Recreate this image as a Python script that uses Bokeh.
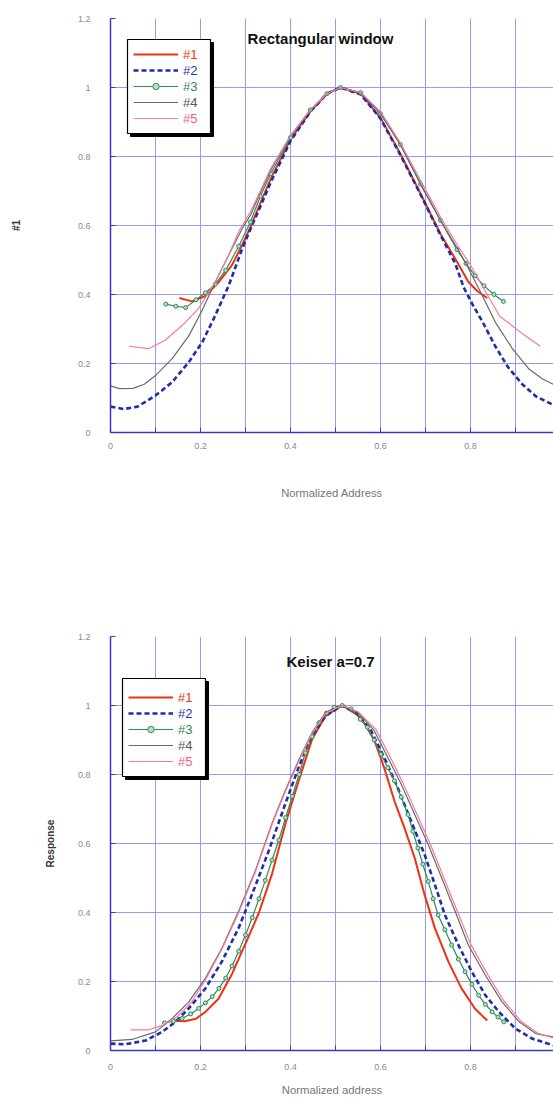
from bokeh.plotting import figure
from bokeh.models import Range1d, FixedTicker, Legend, LegendItem, BoxAnnotation, Label
from bokeh.layouts import column
from bokeh.embed import file_html
from bokeh.resources import INLINE

FONT = "Liberation Sans"

# ---------------- data ----------------
X_TICKS = [0.0, 0.2, 0.4, 0.6, 0.8, 1.0]
X_TICK_LABELS = ["0", "0.2", "0.4", "0.6", "0.8", "1"]
X_MINOR = [0.1, 0.3, 0.5, 0.7, 0.9]
Y_TICKS = [0.0, 0.2, 0.4, 0.6, 0.8, 1.0, 1.2]
Y_TICK_LABELS = ["0", "0.2", "0.4", "0.6", "0.8", "1", "1.2"]
SERIES_NAMES = ["#1", "#2", "#3", "#4", "#5"]

# Rectangular window
rect_x1 = [0.153, 0.181, 0.21, 0.24, 0.27, 0.293, 0.311, 0.333, 0.356, 0.4, 0.444, 0.481, 0.511,
           0.556, 0.6, 0.644, 0.689, 0.733, 0.77, 0.795, 0.815, 0.837]
rect_y1 = [0.39, 0.38, 0.395, 0.435, 0.485, 0.545, 0.595, 0.665, 0.735, 0.85, 0.93, 0.982, 1.0,
           0.982, 0.912, 0.808, 0.692, 0.576, 0.495, 0.437, 0.41, 0.39]
rect_x2 = [0.0, 0.03, 0.06, 0.1, 0.137, 0.174, 0.204, 0.233, 0.263, 0.293, 0.311, 0.333, 0.356, 0.4,
           0.444, 0.481, 0.511, 0.556, 0.6, 0.644, 0.689, 0.733, 0.766, 0.785, 0.805, 0.827, 0.855,
           0.883, 0.915, 0.945, 0.984]
rect_y2 = [0.075, 0.068, 0.075, 0.107, 0.146, 0.204, 0.262, 0.34, 0.427, 0.534, 0.59, 0.655, 0.725, 0.845,
           0.93, 0.982, 1.0, 0.98, 0.91, 0.805, 0.69, 0.573, 0.49, 0.42, 0.37, 0.32, 0.25,
           0.19, 0.14, 0.105, 0.08]
rect_x3 = [0.123, 0.145, 0.167, 0.19, 0.211, 0.233, 0.256, 0.285, 0.311, 0.333, 0.356, 0.4, 0.444,
           0.481, 0.511, 0.556, 0.6, 0.644, 0.689, 0.733, 0.77, 0.79, 0.81, 0.83, 0.852, 0.873]
rect_y3 = [0.372, 0.366, 0.362, 0.385, 0.405, 0.43, 0.47, 0.54, 0.61, 0.685, 0.75, 0.855, 0.935,
           0.982, 1.0, 0.985, 0.924, 0.835, 0.72, 0.615, 0.53, 0.49, 0.455, 0.425, 0.40, 0.38]
rect_x4 = [0.0, 0.02, 0.05, 0.075, 0.1, 0.137, 0.174, 0.204, 0.233, 0.263, 0.293, 0.311, 0.333, 0.356,
           0.4, 0.444, 0.481, 0.511, 0.556, 0.6, 0.644, 0.689, 0.733, 0.77, 0.79, 0.825, 0.855, 0.893,
           0.93, 0.96, 0.984]
rect_y4 = [0.135, 0.127, 0.128, 0.14, 0.165, 0.214, 0.28, 0.355, 0.437, 0.515, 0.592, 0.63, 0.695, 0.76,
           0.86, 0.935, 0.982, 1.0, 0.985, 0.925, 0.835, 0.72, 0.615, 0.535, 0.49, 0.40, 0.32, 0.243,
           0.184, 0.155, 0.14]
rect_x5 = [0.041, 0.085, 0.122, 0.159, 0.196, 0.233, 0.263, 0.285, 0.311, 0.333, 0.356, 0.4, 0.444,
           0.481, 0.511, 0.556, 0.6, 0.644, 0.689, 0.733, 0.77, 0.8, 0.837, 0.865, 0.914, 0.955]
rect_y5 = [0.25, 0.243, 0.268, 0.31, 0.36, 0.437, 0.515, 0.583, 0.64, 0.70, 0.765, 0.86, 0.935,
           0.982, 1.0, 0.985, 0.93, 0.84, 0.73, 0.625, 0.545, 0.485, 0.40, 0.337, 0.288, 0.25]

# Keiser a=0.7
keis_x1 = [0.14, 0.165, 0.19, 0.211, 0.24, 0.27, 0.3, 0.33, 0.359, 0.389, 0.419, 0.448, 0.478, 0.515,
           0.556, 0.586, 0.608, 0.631, 0.653, 0.676, 0.698, 0.721, 0.751, 0.78, 0.81, 0.837]
keis_y1 = [0.086, 0.085, 0.092, 0.112, 0.15, 0.222, 0.31, 0.40, 0.512, 0.659, 0.785, 0.902, 0.97, 1.0,
           0.966, 0.9, 0.82, 0.723, 0.646, 0.558, 0.451, 0.354, 0.257, 0.18, 0.121, 0.087]
keis_x2 = [0.0, 0.033, 0.078, 0.115, 0.144, 0.174, 0.211, 0.248, 0.285, 0.315, 0.352, 0.389, 0.419,
           0.448, 0.478, 0.515, 0.55, 0.579, 0.608, 0.638, 0.668, 0.698, 0.721, 0.743, 0.773, 0.803,
           0.833, 0.863, 0.9, 0.938, 0.984]
keis_y2 = [0.02, 0.018, 0.029, 0.054, 0.083, 0.122, 0.18, 0.259, 0.356, 0.454, 0.58, 0.717, 0.824,
           0.912, 0.97, 1.0, 0.975, 0.927, 0.85, 0.762, 0.665, 0.568, 0.48, 0.393, 0.306, 0.228,
           0.16, 0.112, 0.063, 0.034, 0.015]
keis_x3 = [0.12, 0.14, 0.159, 0.178, 0.196, 0.211, 0.226, 0.241, 0.256, 0.27, 0.285, 0.3, 0.315, 0.33,
           0.344, 0.359, 0.374, 0.389, 0.404, 0.419, 0.433, 0.448, 0.463, 0.48, 0.497, 0.515, 0.535,
           0.555, 0.571, 0.586, 0.601, 0.616, 0.631, 0.646, 0.661, 0.672, 0.683, 0.694, 0.706, 0.717,
           0.728, 0.743, 0.758, 0.773, 0.788, 0.803, 0.818, 0.833, 0.848, 0.861, 0.874]
keis_y3 = [0.08, 0.085, 0.093, 0.106, 0.122, 0.138, 0.156, 0.18, 0.21, 0.245, 0.288, 0.335, 0.385, 0.44,
           0.493, 0.552, 0.61, 0.675, 0.737, 0.80, 0.863, 0.91, 0.95, 0.978, 0.995, 1.0, 0.99,
           0.96, 0.937, 0.9, 0.859, 0.82, 0.782, 0.735, 0.684, 0.635, 0.587, 0.54, 0.49, 0.44,
           0.393, 0.35, 0.306, 0.265, 0.228, 0.192, 0.16, 0.134, 0.112, 0.097, 0.083]
keis_x4 = [0.0, 0.048, 0.1, 0.137, 0.174, 0.211, 0.248, 0.285, 0.322, 0.359, 0.389, 0.419, 0.448, 0.478,
           0.515, 0.55, 0.586, 0.616, 0.646, 0.676, 0.706, 0.736, 0.766, 0.795, 0.833, 0.87, 0.908,
           0.945, 0.984]
keis_y4 = [0.028, 0.032, 0.054, 0.093, 0.141, 0.21, 0.298, 0.405, 0.522, 0.659, 0.756, 0.844, 0.922, 0.98,
           1.0, 0.98, 0.927, 0.85, 0.772, 0.684, 0.597, 0.5, 0.403, 0.306, 0.218, 0.141, 0.083,
           0.049, 0.039]
keis_x5 = [0.045, 0.085, 0.12, 0.15, 0.18, 0.211, 0.248, 0.285, 0.322, 0.359, 0.389, 0.419, 0.448, 0.478,
           0.515, 0.55, 0.59, 0.62, 0.65, 0.68, 0.71, 0.74, 0.77, 0.8, 0.838, 0.875, 0.912, 0.95, 0.984]
keis_y5 = [0.06, 0.06, 0.075, 0.1, 0.14, 0.205, 0.295, 0.40, 0.518, 0.655, 0.752, 0.84, 0.92, 0.978,
           1.0, 0.982, 0.93, 0.855, 0.775, 0.688, 0.6, 0.503, 0.406, 0.309, 0.22, 0.142, 0.085, 0.05, 0.036]

# ---------------- styles ----------------
GRID = "#9a9aec"
AXIS = "#3a3ab8"
LINE_COLORS = ["#f03010", "#1e2ea8", "#2e8b57", "#6a6a6a", "#f57a9c"]
LABEL_COLORS = ["#f03010", "#2233b0", "#2e8b57", "#555555", "#f0608a"]


def make_fig(height, top, bottom, title, title_xy, xlabel, ylabel, ylabel_standoff,
             x_std, xlab_std, series, legend_box):
    p = figure(width=553, height=height, x_range=Range1d(0, 0.9844), y_range=Range1d(0, 1.2),
               output_backend="svg", toolbar_location=None,
               min_border_left=110, min_border_right=0, min_border_top=top, min_border_bottom=bottom)
    p.outline_line_color = None
    p.background_fill_color = "white"

    # axes
    p.xaxis.ticker = FixedTicker(ticks=X_TICKS, minor_ticks=X_MINOR)
    p.xaxis.major_label_overrides = dict(zip(X_TICKS, X_TICK_LABELS))
    p.yaxis.ticker = FixedTicker(ticks=Y_TICKS)
    p.yaxis.major_label_overrides = dict(zip(Y_TICKS, Y_TICK_LABELS))
    for ax in (p.xaxis[0], p.yaxis[0]):
        ax.axis_line_color = AXIS
        ax.axis_line_width = 1.5
        ax.major_tick_line_color = AXIS
        ax.minor_tick_line_color = AXIS
        ax.major_tick_in = 5
        ax.major_tick_out = 0
        ax.minor_tick_in = 5
        ax.minor_tick_out = 0
        ax.major_label_text_font = FONT
        ax.major_label_text_font_size = "9px"
        ax.major_label_text_color = "#8a8a8a"
        ax.axis_label_text_font = FONT
    p.yaxis.minor_tick_line_color = None
    p.xaxis.major_label_standoff = x_std
    p.yaxis.major_label_standoff = 20
    p.xaxis.axis_label = xlabel
    p.xaxis.axis_label_standoff = xlab_std
    p.xaxis.axis_label_text_font_size = "11.3px"
    p.xaxis.axis_label_text_font_style = "normal"
    p.xaxis.axis_label_text_color = "#777777"
    p.yaxis.axis_label = ylabel
    p.yaxis.axis_label_standoff = ylabel_standoff
    p.yaxis.axis_label_text_font_size = "10px"
    p.yaxis.axis_label_text_font_style = "bold"
    p.yaxis.axis_label_text_color = "#333333"

    # grid
    p.xgrid.grid_line_color = GRID
    p.xgrid.minor_grid_line_color = GRID
    p.ygrid.grid_line_color = GRID
    p.xgrid.grid_line_width = 1
    p.ygrid.grid_line_width = 1

    (x1, y1), (x2, y2), (x3, y3), (x4, y4), (x5, y5) = series
    r1 = p.line(x1, y1, line_color=LINE_COLORS[0], line_width=2)
    r2 = p.line(x2, y2, line_color=LINE_COLORS[1], line_width=2.6, line_dash="5 3")
    r3 = p.line(x3, y3, line_color=LINE_COLORS[2], line_width=1.2)
    r3m = p.scatter(x3, y3, marker="circle", size=4, line_color=LINE_COLORS[2],
                    fill_color="#b5e0c5", line_width=1)
    r4 = p.line(x4, y4, line_color=LINE_COLORS[3], line_width=1.2)
    r5 = p.line(x5, y5, line_color=LINE_COLORS[4], line_width=1.2)

    # title
    p.add_layout(Label(x=title_xy[0], y=title_xy[1], text=title, text_align="center",
                       text_baseline="middle", text_font=FONT, text_font_size="15px",
                       text_font_style="bold", text_color="#111111"))

    # legend box with shadow
    (bl, br, bt, bb), (lx, ly) = legend_box
    sx, sy = 3 / 450, 3 / 345
    p.add_layout(BoxAnnotation(left=bl + sx, right=br + sx, top=bt - sy, bottom=bb - sy,
                               fill_color="black", fill_alpha=1, line_color="black", line_alpha=1))
    p.add_layout(BoxAnnotation(left=bl, right=br, top=bt, bottom=bb, fill_color="white",
                               fill_alpha=1, line_color="black", line_width=1.2, line_alpha=1))
    rends = [[r1], [r2], [r3, r3m], [r4], [r5]]
    n = len(SERIES_NAMES)
    for i, name in enumerate(SERIES_NAMES):
        lg = Legend(items=[LegendItem(label=name, renderers=rends[i])],
                    location=(lx, ly + (n - 1 - i) * 16),
                    padding=0, margin=0, spacing=0, label_height=16, glyph_height=16,
                    glyph_width=45, label_standoff=5, background_fill_alpha=0,
                    border_line_alpha=0, label_text_font=FONT, label_text_font_size="13px",
                    label_text_color=LABEL_COLORS[i])
        p.add_layout(lg, "center")
    return p


p1 = make_fig(600, 18, 168, "Rectangular window", (0.4667, 1.142), "Normalized Address", "#1", 53,
              10, 35,
              [(rect_x1, rect_y1), (rect_x2, rect_y2), (rect_x3, rect_y3), (rect_x4, rect_y4),
               (rect_x5, rect_y5)],
              ((17 / 450, 100 / 450, (432 - 39) / 345, (432 - 133) / 345), (23, 306)))
p2 = make_fig(499, 36, 49, "Keiser a=0.7", (0.4889, 1.1275), "Normalized address", "Response", 19,
              13, 11,
              [(keis_x1, keis_y1), (keis_x2, keis_y2), (keis_x3, keis_y3), (keis_x4, keis_y4),
               (keis_x5, keis_y5)],
              ((12 / 450, 95 / 450, (1050 - 678) / 345, (1050 - 776) / 345), (18, 281)))

layout = column(p1, p2)
open("out.html", "w").write(file_html(layout, INLINE))
